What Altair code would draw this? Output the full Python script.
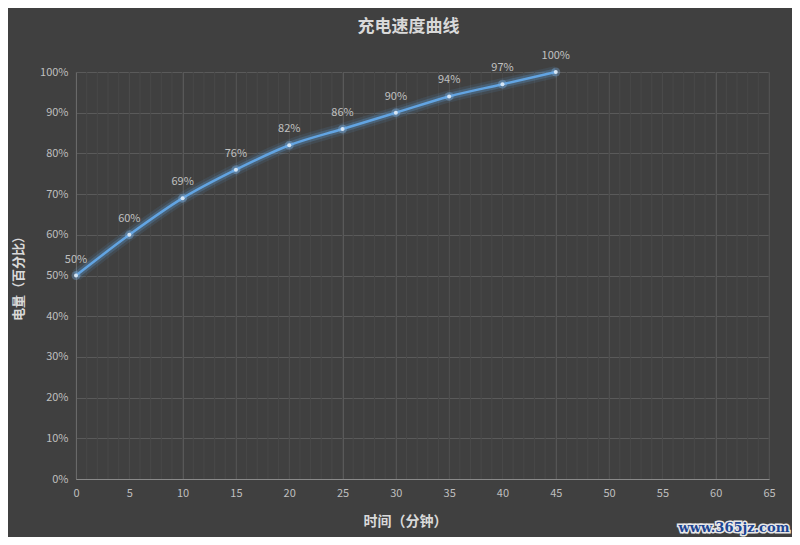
import altair as alt
import pandas as pd

minutes = [0, 5, 10, 15, 20, 25, 30, 35, 40, 45]
charge = [50, 60, 69, 76, 82, 86, 90, 94, 97, 100]
x_major = list(range(0, 70, 5))
x_minor = list(range(0, 66))
y_major = list(range(0, 110, 10))

df = pd.DataFrame({"t": minutes, "c": charge, "label": [f"{v}%" for v in charge]})
minor_df = pd.DataFrame({"t": x_minor})

FONT = "Noto Sans CJK SC"
xs = alt.Scale(domain=[0, 65], nice=False, zero=False)
ys = alt.Scale(domain=[0, 100], nice=False)

x_axis = alt.Axis(values=x_major, title="时间（分钟）", grid=True, gridColor="#5a5a5a",
                  ticks=False, labelPadding=8, labelColor="#bfbfbf", labelFontSize=11,
                  labelFlush=False, labelOverlap=False,
                  labelFont=FONT, domainColor="#8a8a8a", titleFont=FONT, titleFontSize=14,
                  titleFontWeight="bold", titleColor="#d9d9d9", titleX=329, titleY=42,
                  titleBaseline="middle", titleAnchor="start", titleAlign="center")
y_axis = alt.Axis(values=y_major, labelExpr="datum.value + '%'",
                  title="电量（百分比）", grid=True, gridColor="#5a5a5a", ticks=False,
                  labelPadding=8, labelColor="#bfbfbf", labelFontSize=11, labelFont=FONT,
                  labelFlush=False, labelOverlap=False,
                  domainColor="#8a8a8a", titleFont=FONT, titleFontSize=13,
                  titleFontWeight="bold", titleColor="#d9d9d9", titleAngle=270,
                  titleX=-58, titleY=203, titleBaseline="middle", titleAlign="center")

X = alt.X("t:Q", scale=xs, axis=x_axis, title="时间（分钟）")
Y = alt.Y("c:Q", scale=ys, axis=y_axis, title="电量（百分比）")

base = alt.Chart(df)
axes_layer = base.mark_point(opacity=0).encode(x=X, y=Y)

minor = alt.Chart(minor_df).mark_rule(color="#484848", strokeWidth=1).encode(
    x=alt.X("t:Q", scale=xs),
)

glow1 = base.mark_line(interpolate="monotone", color="#5B9BD5", strokeWidth=12,
                       opacity=0.12).encode(x="t:Q", y="c:Q")
glow2 = base.mark_line(interpolate="monotone", color="#5B9BD5", strokeWidth=7,
                       opacity=0.28).encode(x="t:Q", y="c:Q")
line = base.mark_line(interpolate="monotone", color="#62a4e2", strokeWidth=2.5).encode(
    x="t:Q", y="c:Q")
pts_glow = base.mark_circle(color="#7fb3e6", size=80, opacity=0.35).encode(x="t:Q", y="c:Q")
pts = base.mark_circle(color="#d6e6f5", size=16, opacity=1).encode(x="t:Q", y="c:Q")
labels = base.mark_text(dy=-16, color="#c0c0c0", fontSize=11, font=FONT).encode(
    x="t:Q", y="c:Q", text="label:N")

wm_df = pd.DataFrame({"w": ["www.365jz.com"]})
wm_halo = alt.Chart(wm_df).mark_text(
    font="DejaVu Serif", fontSize=13, fontWeight="bold", fill="#ffffff", stroke="#e8e8e8",
    strokeWidth=3, align="center", baseline="middle").encode(
    x=alt.value(658), y=alt.value(456), text="w:N")
wm = alt.Chart(wm_df).mark_text(
    font="DejaVu Serif", fontSize=13, fontWeight="bold", fill="#1d4592",
    align="center", baseline="middle").encode(
    x=alt.value(658), y=alt.value(456), text="w:N")

chart = alt.layer(axes_layer, minor, glow1, glow2, line, pts_glow, pts, labels,
                  wm_halo, wm).properties(
    width=693, height=407,
    title=alt.TitleParams("充电速度曲线", font=FONT, fontSize=17, fontWeight="bold",
                          color="#d9d9d9", anchor="middle", dx=-14, offset=12),
    background="#404040",
    padding={"left": 68, "top": 64, "right": 23, "bottom": 58},
    autosize=alt.AutoSizeParams(type="none"),
).configure_view(stroke=None)

chart.save("out.html", embed_options={"renderer": "svg", "actions": False})
